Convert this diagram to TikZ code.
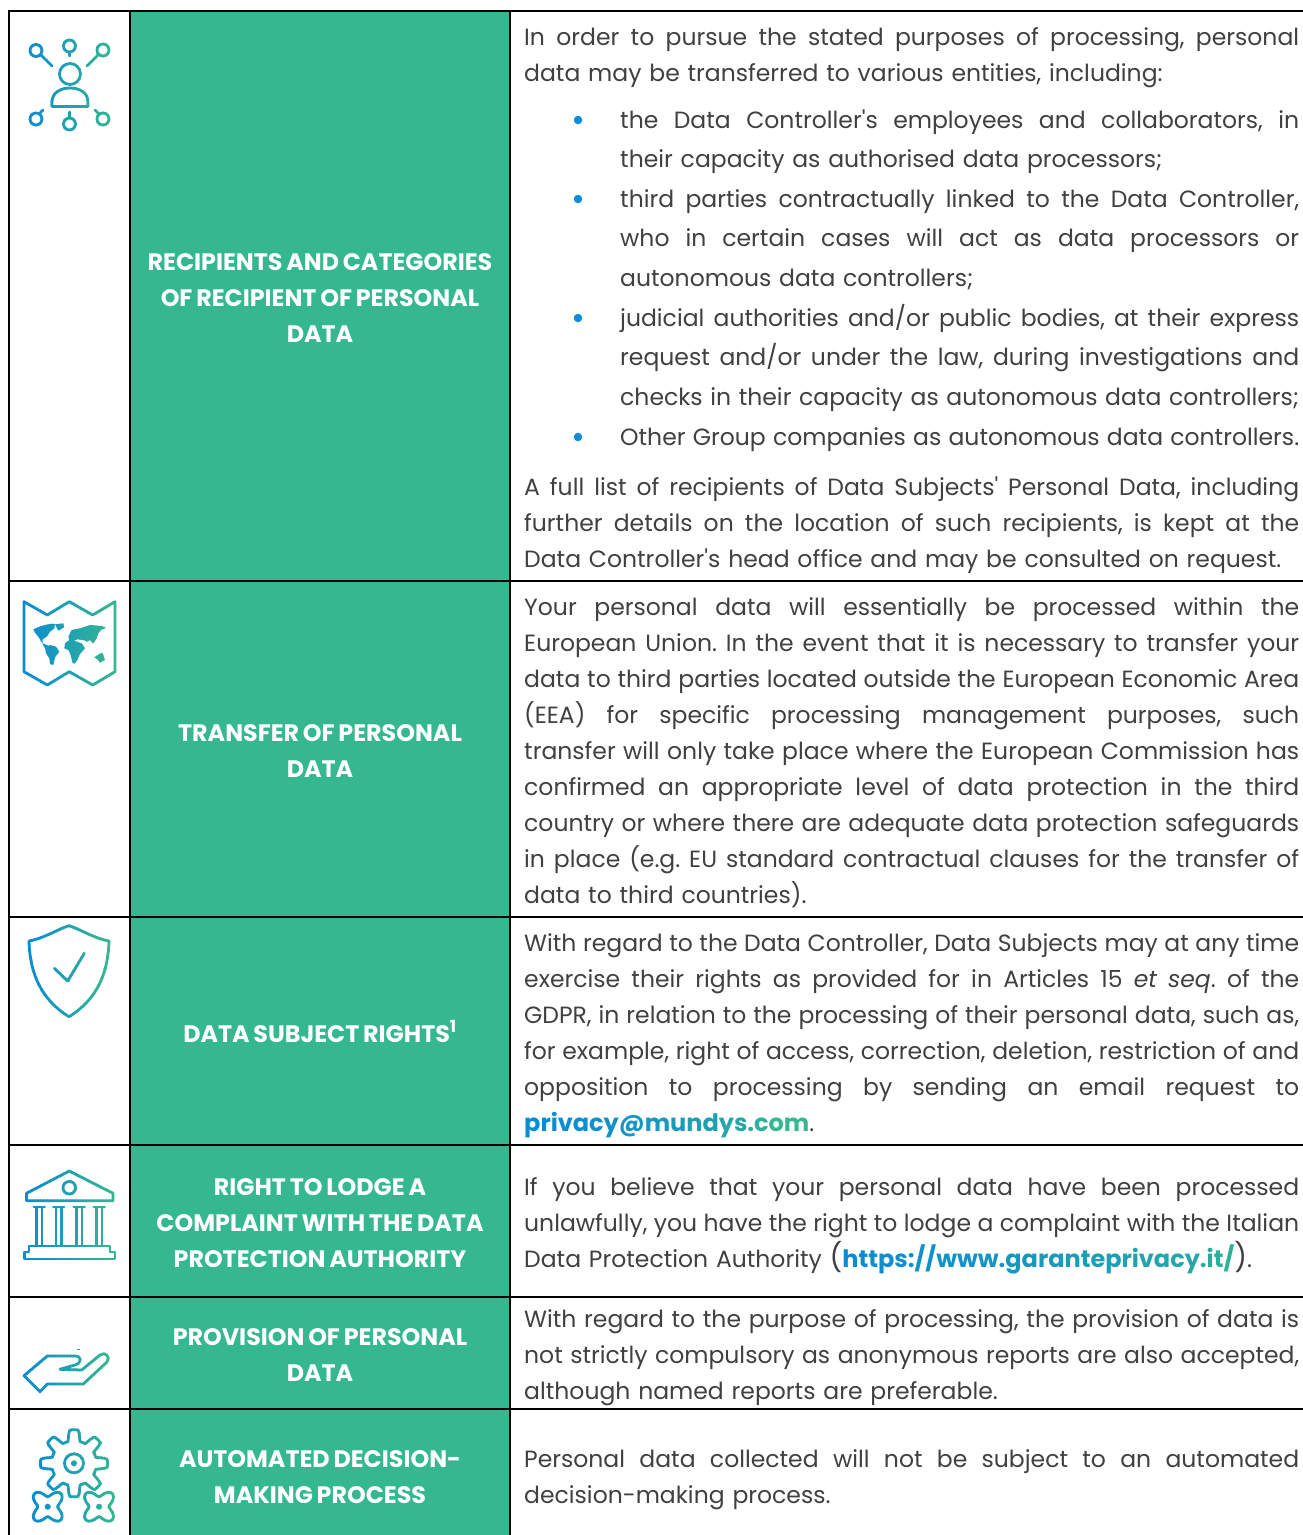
\documentclass[tikz,border=0pt]{standalone}
\usepackage{fontspec}
\setmainfont{Poppins}[Ligatures=TeXOff]
\definecolor{gb}{HTML}{0A8CD2}
\definecolor{gg}{HTML}{35B88F}
\definecolor{txt}{HTML}{404040}
\definecolor{bdot}{HTML}{0C8DDA}
\newcommand\gradicon[3]{%
 \foreach \gi in {0,...,27}{%
  \pgfmathsetmacro\gradt{100*\gi/27}%
  \pgfmathsetmacro\gxa{#1+(#2-#1)*\gi/28}%
  \pgfmathsetmacro\gxb{#1+(#2-#1)*(\gi+1)/28+0.5}%
  \colorlet{gc}{gg!\gradt!gb}%
  \begin{scope}
   \ifnum\gi=0 \clip (#1-6,0) rectangle (\gxb,1535);\else
   \ifnum\gi=27 \clip (\gxa,0) rectangle (#2+6,1535);\else
   \clip (\gxa,0) rectangle (\gxb,1535);\fi\fi
   #3
  \end{scope}}}
\newcommand\gl[2]{\textcolor{gg!#1!gb}{#2}}
\newcommand\jl[1]{\hbox to\hsize{\frenchspacing\spaceskip=\fontdimen2\font plus 1em minus .6\fontdimen2\font\relax\ignorespaces#1\unskip}\par}
\newcommand\nl[1]{\hbox{\frenchspacing\ignorespaces#1\unskip}\par}
\newcommand\bodyfont{\fontsize{23.5}{36}\selectfont\hbadness=10000 \hfuzz=30pt \parskip=0pt }
\newcommand\bulfont{\fontsize{23.5}{39.6}\selectfont\hbadness=10000 \hfuzz=30pt \parskip=0pt }
\newcommand\headfont{\fontsize{23.8}{36}\selectfont\bfseries}
\newcommand\lnk{\fontsize{24}{36}\selectfont\bfseries}
\tikzset{
 ic/.style={draw=gc,line width=2.8pt,line cap=round,line join=round},
 icf/.style={fill=gc,draw=none},
 greencell/.style={fill=gg,draw=none},
 head/.style={anchor=center,align=center,text=white,font=\headfont,inner sep=0pt,text width=370pt,execute at begin node={\spaceskip=.75\fontdimen2\font\relax}},
 para/.style={anchor=base west,inner sep=0pt,text=txt,text width=775pt,font=\bodyfont},
 bul/.style={anchor=base west,inner sep=0pt,text=txt,text width=679pt,font=\bulfont},
 dot/.style={circle,fill=bdot,inner sep=0pt,minimum size=8.5pt},
 rule/.style={draw=black,line width=2pt}
}
\begin{document}
\begin{tikzpicture}[x=1pt,y=-1pt]
\useasboundingbox (0,0) rectangle (1303,1535);
\fill[white] (0,0) rectangle (1303,1535);
% green column
\fill[greencell] (131,11) rectangle (510,1535);
% icons
\gradicon{24}{116}{
 \draw[ic] (36,50.5) circle (6) (69.5,46) circle (6) (103,50) circle (6)
  (36,119) circle (6) (69.5,124) circle (6) (103,119) circle (6)
  (70,74) circle (10.5);
 \draw[ic] (41,55)--(52,66) (69.5,52)--(69.5,56) (98,55)--(87,66)
  (39,114)--(43,110) (69.5,118)--(69.5,112) (99,114)--(95,110);
 \draw[ic,line cap=butt] (52,106.5)--(52,102) .. controls (52,93) and (60,88) .. (70,88) .. controls (80,88) and (88,93) .. (88,102)--(88,106.5)--cycle;
}
\gradicon{24}{116}{
 \draw[ic] (24,601.7)--(47.3,615)--(69.3,601.7)--(92.7,615)--(115,601.7)--(115,671.7)--(92.7,685)--(69.3,671.7)--(47.3,685)--(24,671.7)--cycle;
 \begin{scope}[shift={(0,580)},scale=0.33333]
 \fill[icf] (100,148)--(118,140)--(135,135)--(155,131)--(165,132)--(163,145)--(150,155)--(140,170)--(128,178)--(128,190)--(145,197)--(135,205)--(130,195)--(115,170)--(105,158)--cycle;
 \fill[icf] (165,133)--(190,130)--(192,142)--(175,152)--cycle;
 \fill[icf] (135,203)--(150,195)--(168,200)--(178,215)--(165,232)--(160,255)--(150,252)--(148,235)--(138,220)--cycle;
 \fill[icf] (205,170)--(215,150)--(240,145)--(270,135)--(305,138)--(318,143)--(303,150)--(295,160)--(290,175)--(280,190)--(270,180)--(262,185)--(250,180)--(232,178)--(222,182)--(245,190)--(255,205)--(240,222)--(232,240)--(225,250)--(218,250)--(212,225)--(205,210)--(193,205)--(195,190)--(208,180)--cycle;
 \fill[icf] (283,232)--(298,222)--(307,218)--(315,240)--(300,248)--(292,238)--cycle;
 \end{scope}
}
\gradicon{29}{109}{
 \draw[ic] (69,925.7) .. controls (58,929) and (45,938) .. (29,941) .. controls (30,975) and (42,1000) .. (69,1016.7) .. controls (96,1000) and (108,975) .. (109,941) .. controls (93,938) and (80,929) .. (69,925.7) -- cycle;
 \draw[ic] (54.3,968.3)--(67.7,981)--(84.3,953.3);
}
\gradicon{24}{116}{
 \draw[ic] (69.3,1171)--(26.5,1193.3)--(26.5,1200.7)--(113,1200.7)--(113,1193.3)--cycle;
 \draw[ic] (69.3,1187.7) circle (6.3);
 \draw[ic] (24.5,1252)--(24.5,1259)--(115,1259)--(115,1252)--(110,1252)--(110,1246)--(29,1246)--(29,1252)--cycle;
 \foreach \cx in {39.3,58.7,79.3,99.3}{
  \draw[ic,line width=2.4pt] (\cx-5.5,1207)--(\cx+5.5,1207);
  \draw[ic,line width=2.4pt,line cap=butt] (\cx-2.8,1207)--(\cx-2.8,1246) (\cx+2.8,1207)--(\cx+2.8,1246);
 }
}
\gradicon{24}{110}{
 \draw[ic] (47.3,1356) -- (24,1375.7) -- (40,1391.7) -- (47.3,1384) -- (83.3,1384) -- (107,1362) .. controls (111,1357) and (105,1351) .. (100,1355) -- (81.7,1370) -- (60,1369.3) -- (75,1365) .. controls (82,1363) and (82,1356) .. (75,1356) -- cycle;
 \fill[icf] (77,1349) rectangle (80,1350);
}
\gradicon{32}{116}{
 \draw[ic,smooth] plot[domain=0:360,samples=161] ({74+(28+max(-5.5,min(5.5,11*cos(8*\x))))*cos(\x)},{1463.3+(28+max(-5.5,min(5.5,11*cos(8*\x))))*sin(\x)}) -- cycle;
 \draw[ic] (74,1463.3) circle (9.5);
 \fill[icf] (74,1463.3) circle (3);
 \draw[ic,smooth] plot[domain=0:360,samples=73] ({47.7+(14.3-4.3*cos(4*\x))*cos(\x)},{1506.7+(14.3-4.3*cos(4*\x))*sin(\x)}) -- cycle;
 \fill[icf] (47.7,1506.7) circle (3);
 \draw[ic,smooth] plot[domain=0:360,samples=73] ({99+(14.3-4.3*cos(4*\x))*cos(\x)},{1506.7+(14.3-4.3*cos(4*\x))*sin(\x)}) -- cycle;
 \fill[icf] (99,1506.7) circle (3);
}
% grid
\draw[rule] (1303,11)--(9,11)--(9,1535);
\draw[rule] (130,11)--(130,1535);
\draw[rule] (510,11)--(510,1535);
\foreach \yy in {581,917,1145,1297,1409}{\draw[rule] (9,\yy)--(1303,\yy);}
% headings
\node[head] (h1) at (320,298) {RECIPIENTS AND CATEGORIES\\OF RECIPIENT OF PERSONAL\\DATA};
\node[head] (h2) at (320,751.5) {TRANSFER OF PERSONAL\\DATA};
\node[head] (h3) at (320,1031.5) {DATA SUBJECT RIGHTS\textsuperscript{1}};
\node[head] (h4) at (320,1223.5) {RIGHT TO LODGE A\\COMPLAINT WITH THE DATA\\PROTECTION AUTHORITY};
\node[head] (h5) at (320,1355.5) {PROVISION OF PERSONAL\\DATA};
\node[head] (h6) at (320,1477.5) {AUTOMATED DECISION-\\MAKING PROCESS};
% body
\node[para] (p1) at (524,45) {\jl{In order to pursue the stated purposes of processing, personal}\nl{data may be transferred to various entities, including:}};
\node[dot] (d1) at (578,120) {};
\node[dot] (d2) at (578,199) {};
\node[dot] (d3) at (578,318) {};
\node[dot] (d4) at (578,437) {};
\node[bul] (b1) at (620,128) {\jl{the Data Controller's employees and collaborators, in}\nl{their capacity as authorised data processors;}};
\node[bul] (b2) at (620,207) {\jl{third parties contractually linked to the Data Controller,}\jl{who in certain cases will act as data processors or}\nl{autonomous data controllers;}};
\node[bul] (b3) at (620,326) {\jl{judicial authorities and/or public bodies, at their express}\jl{request and/or under the law, during investigations and}\jl{checks in their capacity as autonomous data controllers;}};
\node[bul] (b4) at (620,445) {\jl{Other Group companies as autonomous data controllers.}};
\node[para] (p2) at (524,495) {\jl{A full list of recipients of Data Subjects' Personal Data, including}\jl{further details on the location of such recipients, is kept at the}\nl{Data Controller's head office and may be consulted on request.}};
\node[para] (p3) at (524,615) {\jl{Your personal data will essentially be processed within the}\jl{European Union. In the event that it is necessary to transfer your}\jl{data to third parties located outside the European Economic Area}\jl{(EEA) for specific processing management purposes, such}\jl{transfer will only take place where the European Commission has}\jl{confirmed an appropriate level of data protection in the third}\jl{country or where there are adequate data protection safeguards}\jl{in place (e.g. EU standard contractual clauses for the transfer of}\nl{data to third countries).}};
\node[para] (p4) at (524,951) {\jl{With regard to the Data Controller, Data Subjects may at any time}\jl{exercise their rights as provided for in Articles 15 \textit{et seq}. of the}\jl{GDPR, in relation to the processing of their personal data, such as,}\jl{for example, right of access, correction, deletion, restriction of and}\jl{opposition to processing by sending an email request to}\nl{{\lnk\gl{0}{pri}\gl{6}{va}\gl{12}{cy}\gl{20}{@}\gl{32}{mu}\gl{46}{nd}\gl{62}{ys}\gl{85}{.c}\gl{100}{om}}.}};
\node[para] (p5) at (524,1195) {\jl{If you believe that your personal data have been processed}\jl{unlawfully, you have the right to lodge a complaint with the Italian}\nl{Data Protection Authority {\fontsize{28}{36}\selectfont(}{\lnk\gl{0}{ht}\gl{4}{tp}\gl{8}{s:}\gl{12}{//}\gl{16}{ww}\gl{20}{w.}\gl{26}{ga}\gl{32}{ra}\gl{38}{nt}\gl{44}{ep}\gl{50}{ri}\gl{56}{va}\gl{62}{cy}\gl{70}{.i}\gl{80}{t/}}{\fontsize{28}{36}\selectfont)}.}};
\node[para] (p6) at (524,1327) {\jl{With regard to the purpose of processing, the provision of data is}\jl{not strictly compulsory as anonymous reports are also accepted,}\nl{although named reports are preferable.}};
\node[para] (p7) at (524,1467) {\jl{Personal data collected will not be subject to an automated}\nl{decision-making process.}};
\end{tikzpicture}
\end{document}
